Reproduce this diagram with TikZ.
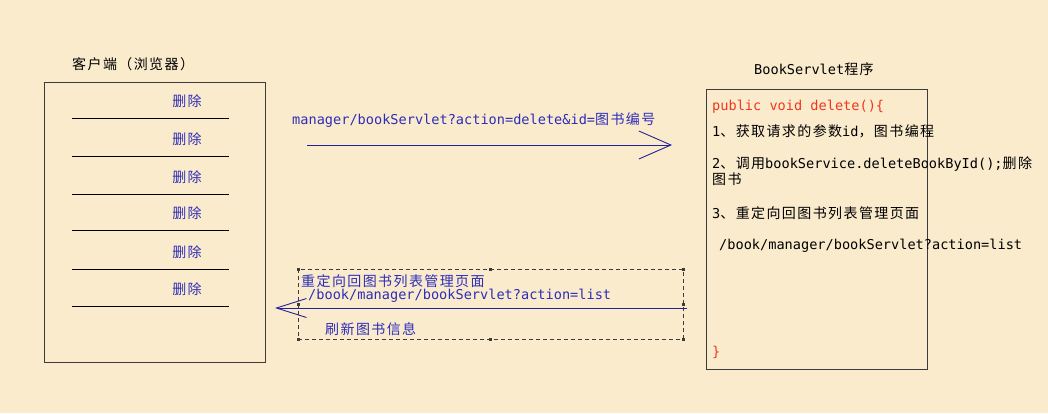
\documentclass[tikz,border=0pt]{standalone}
\usepackage{fontspec}
\setmainfont{DejaVu Sans}
\newfontfamily\cjk[LetterSpace=10]{Noto Sans CJK SC}
\newfontfamily\mono{DejaVu Sans Mono}
\usetikzlibrary{arrows.meta,positioning}

\definecolor{paper}{RGB}{250,235,205}
\definecolor{boxgray}{RGB}{60,60,60}
\definecolor{inkblue}{RGB}{45,45,185}
\definecolor{lineblue}{RGB}{35,35,150}
\definecolor{codered}{RGB}{240,55,30}

\newcommand{\zh}[1]{{\cjk\fontsize{14}{16}\selectfont #1}}
\newcommand{\code}[1]{{\mono\fontsize{13.6}{16}\selectfont #1}}

\begin{document}
\begin{tikzpicture}[x=1pt,y=-1pt]
\tikzstyle{panel}   = [rectangle, draw=boxgray, line width=0.9pt, minimum width=221pt, minimum height=280pt, anchor=north west, inner sep=0pt]
\tikzstyle{frame}   = [rectangle, draw=boxgray, line width=0.8pt, dash pattern=on 4pt off 3pt, minimum width=385pt, minimum height=70pt, anchor=north west, inner sep=0pt]
\tikzstyle{txt}     = [inner sep=0pt, anchor=west]
\tikzstyle{bluetxt} = [txt, text=inkblue]
\tikzstyle{redtxt}  = [txt, text=codered]
\tikzstyle{sep}     = [draw=black, line width=0.8pt]
\tikzstyle{arrow}   = [draw=lineblue, line width=0.9pt]

\useasboundingbox [fill=paper] (0,0) rectangle (1048,413);

% client side
\node (clienttitle) [txt]                at (72,64)  {\zh{客户端（浏览器）}};
\node (client)      [panel]              at (44,82)  {};
\foreach \i/\ly in {1/101, 2/139, 3/177, 4/213, 5/252, 6/289} {
  \node (del\i) [bluetxt, anchor=center] at (187,\ly) {\zh{删除}};
  \draw [sep] (72,\ly+17) -- (229,\ly+17);
}

% servlet side
\node (progtitle)   [txt]                at (754,69) {\code{BookServlet}\zh{程序}};
\node (program)     [panel]              at (706,89) {};
\node (head)        [redtxt]             at (712,107) {\code{public void delete()\{}};
\node (step1)       [txt]                at (712,131) {\code{1}\zh{、获取请求的参数}\code{id}\zh{，图书编程}};
\node (step2)       [txt]                at (712,164) {\code{2}\zh{、调用}\code{bookService.deleteBookById();}\zh{删除}};
\node (step2b)      [txt]                at (712,179) {\zh{图书}};
\node (step3)       [txt]                at (712,213) {\code{3}\zh{、重定向回图书列表管理页面}};
\node (listurl)     [txt]                at (719,246) {\code{/book/manager/bookServlet?action=list}};
\node (tail)        [redtxt]             at (712,352) {\code{\}}};

% request
\node (reqtxt)      [bluetxt]            at (292,120) {\code{manager/bookServlet?action=delete\&id=}\zh{图书编号}};
\coordinate (reqstart) at (307,145);
\coordinate (reqend)   at (672,145);
\draw [arrow, -{Straight Barb[length=32pt,width=28pt]}] (reqstart) -- (reqend);

% response
\node (reply)       [frame]              at (298,269) {};
\foreach \a in {north west, north, north east, east, south east, south, south west, west}
  \fill [boxgray] (reply.\a) ++(-1.5,-1.5) rectangle ++(3,3);
\node (redirect)    [bluetxt]            at (301,281) {\zh{重定向回图书列表管理页面}};
\node (backurl)     [bluetxt]            at (308,296) {\code{/book/manager/bookServlet?action=list}};
\node (refresh)     [bluetxt]            at (325,329) {\zh{刷新图书信息}};
\coordinate (backstart) at (687,308);
\coordinate (backend)   at (275,308);
\draw [arrow, -{Straight Barb[length=30pt,width=19pt]}] (backstart) -- (backend);
\end{tikzpicture}
\end{document}
